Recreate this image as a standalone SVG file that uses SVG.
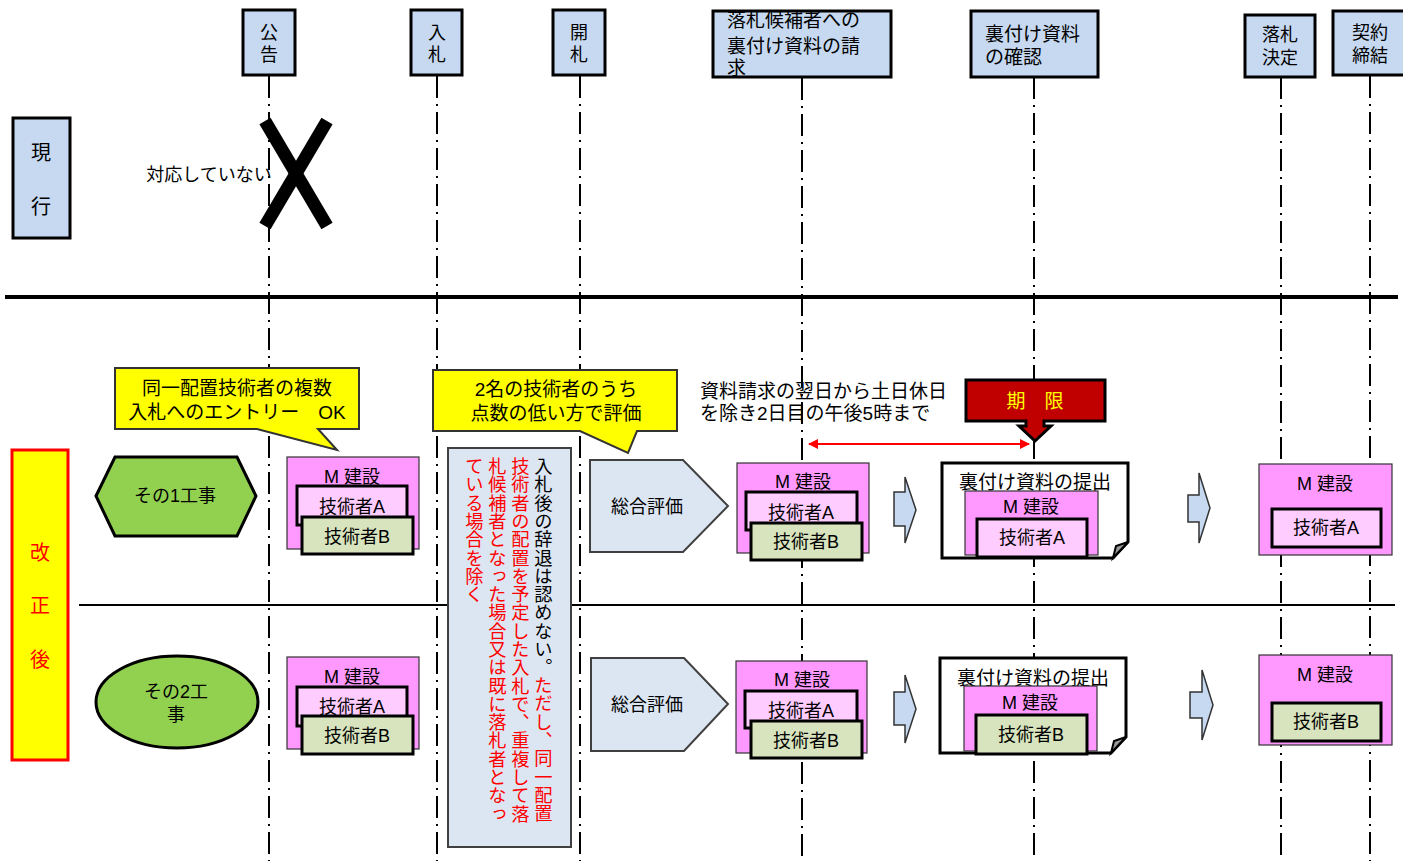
<svg xmlns="http://www.w3.org/2000/svg" width="1403" height="861" viewBox="0 0 1403 861">
<defs>
<style>
text{font-family:"Liberation Sans","Noto Sans CJK JP",sans-serif;font-size:18px;fill:#000;text-anchor:middle;dominant-baseline:central}
.hdr{fill:#c6d9f1;stroke:#000;stroke-width:3}
.life{stroke:#000;stroke-width:2;stroke-dasharray:22 6 2 6;fill:none}
.m{fill:#ff99ff;stroke:#333;stroke-width:1.2}
.ta{fill:#ffccff;stroke:#000;stroke-width:3}
.tb{fill:#d7e4bd;stroke:#000;stroke-width:3}
.green{fill:#92d050;stroke:#000;stroke-width:3}
.pent{fill:#dce6f2;stroke:#404040;stroke-width:2}
.barrow{fill:#c6d9f1;stroke:#333;stroke-width:1.5}
.doc{fill:#fff;stroke:#000;stroke-width:3}
.call{fill:#ffff00;stroke:#333;stroke-width:2}
.f19{font-size:19px}
.left{text-anchor:start}
.vt{writing-mode:vertical-rl;text-anchor:start;font-size:18.3px}
.red{fill:#ff0000}
</style>
<marker id="ah" viewBox="0 0 10 10" refX="9" refY="5" markerWidth="6.5" markerHeight="5" orient="auto-start-reverse" markerUnits="strokeWidth">
<path d="M0,0 L10,5 L0,10 Z" fill="#ff0000"/>
</marker>
</defs>

<g id="connectors">
<line class="life" x1="269" y1="76" x2="269" y2="861"/>
<line class="life" x1="437" y1="76" x2="437" y2="861"/>
<line class="life" x1="580" y1="76" x2="580" y2="861"/>
<line class="life" x1="802" y1="78" x2="802" y2="861"/>
<line class="life" x1="1034" y1="77" x2="1034" y2="861"/>
<line class="life" x1="1281" y1="77" x2="1281" y2="861"/>
<line class="life" x1="1370" y1="76" x2="1370" y2="861"/>
<line x1="5" y1="297" x2="1398" y2="297" stroke="#000" stroke-width="4"/>
<line x1="79" y1="605" x2="1395" y2="605" stroke="#000" stroke-width="2"/>
<line x1="809" y1="444" x2="1029" y2="444" stroke="#ff0000" stroke-width="2" marker-start="url(#ah)" marker-end="url(#ah)"/>
</g>

<g id="h-koukoku"><rect class="hdr" x="243" y="10" width="52" height="65"/><text x="269" y="33">公</text><text x="269" y="55">告</text></g>
<g id="h-nyusatsu"><rect class="hdr" x="411" y="10" width="51" height="65"/><text x="437" y="33">入</text><text x="437" y="55">札</text></g>
<g id="h-kaisatsu"><rect class="hdr" x="553" y="10" width="52" height="65"/><text x="579" y="33">開</text><text x="579" y="55">札</text></g>
<g id="h-seikyu"><rect class="hdr" x="713" y="11" width="178" height="66"/><text class="left f19" x="727" y="20">落札候補者への</text><text class="left f19" x="727" y="46">裏付け資料の請</text><text class="left f19" x="727" y="68">求</text></g>
<g id="h-kakunin"><rect class="hdr" x="971" y="11" width="127" height="66"/><text class="left f19" x="985" y="34">裏付け資料</text><text class="left f19" x="985" y="57">の確認</text></g>
<g id="h-kettei"><rect class="hdr" x="1245" y="15" width="70" height="62"/><text x="1280" y="35">落札</text><text x="1280" y="58">決定</text></g>
<g id="h-teiketsu"><rect class="hdr" x="1333" y="11" width="72" height="64"/><text x="1370" y="33">契約</text><text x="1370" y="56">締結</text></g>

<g id="genkou"><rect class="hdr" x="13" y="118" width="57" height="120"/><text x="41" y="153" style="font-size:20px">現</text><text x="41" y="207" style="font-size:20px">行</text></g>
<g id="not-supported"><text x="209" y="175">対応していない</text><line x1="265" y1="121" x2="327" y2="226" stroke="#000" stroke-width="13"/><line x1="327" y1="121" x2="265" y2="226" stroke="#000" stroke-width="13"/></g>

<g id="kaiseigo"><rect x="12" y="450" width="56" height="310" fill="#ffff00" stroke="#ff0000" stroke-width="3"/><text class="red" x="40" y="553" style="font-size:20px">改</text><text class="red" x="40" y="606" style="font-size:20px">正</text><text class="red" x="40" y="660" style="font-size:20px">後</text></g>

<g id="callout1"><path class="call" d="M115,368 H359 V429 H318 L337,450 L257,429 H115 Z"/><text class="f19" x="237" y="388">同一配置技術者の複数</text><text class="f19" x="237" y="412">入札へのエントリー　OK</text></g>
<g id="callout2"><path class="call" d="M433,370 H677 V431 H637 L628,453 L580,431 H433 Z"/><text class="f19" x="556" y="389">2名の技術者のうち</text><text class="f19" x="556" y="413">点数の低い方で評価</text></g>

<g id="koji1"><path class="green" d="M96,496 L115,457 H237 L256,496 L237,536 H115 Z"/><text x="175" y="496">その1工事</text></g>
<g id="koji2"><ellipse class="green" cx="177" cy="702" rx="81" ry="46"/><text x="176" y="692">その2工</text><text x="176" y="715">事</text></g>

<g id="m1-r1"><rect class="m" x="287" y="457" width="132" height="92"/><text x="352" y="477">M 建設</text><rect class="ta" x="297" y="486" width="110" height="39"/><text x="352" y="507">技術者A</text><rect class="tb" x="302" y="517" width="111" height="37"/><text x="357" y="537">技術者B</text></g>
<g id="m1-r2"><rect class="m" x="287" y="657" width="132" height="92"/><text x="352" y="677">M 建設</text><rect class="ta" x="297" y="687" width="110" height="39"/><text x="352" y="707">技術者A</text><rect class="tb" x="302" y="716" width="111" height="38"/><text x="357" y="736">技術者B</text></g>

<g id="note-box"><rect x="448" y="448" width="123" height="399" fill="#dce6f2" stroke="#404040" stroke-width="2"/>
<text class="vt" x="542" y="457">入札後の辞退は認めない。<tspan fill="#ff0000">ただし、同一配置</tspan></text>
<text class="vt red" x="519" y="457">技術者の配置を予定した入札で、重複して落</text>
<text class="vt red" x="496" y="457">札候補者となった場合又は既に落札者となっ</text>
<text class="vt red" x="473" y="457">ている場合を除く</text></g>

<g id="sogo1"><path class="pent" d="M590,460 H683 L728,506 L683,552 H590 Z"/><text x="647" y="507">総合評価</text></g>
<g id="sogo2"><path class="pent" d="M591,658 H684 L728,704 L684,751 H591 Z"/><text x="647" y="705">総合評価</text></g>

<g id="deadline-note"><text class="left f19" x="700" y="391">資料請求の翌日から土日休日</text><text class="left f19" x="700" y="413">を除き2日目の午後5時まで</text></g>
<g id="kigen"><path d="M966,380 H1105 V421 H1044 V426 H1051 L1035,441 L1019,426 H1026 V421 H966 Z" fill="#c00000" stroke="#000" stroke-width="3"/><text class="f19" x="1035" y="401" style="fill:#ffff00">期　限</text></g>

<g id="m2-r1"><rect class="m" x="737" y="463" width="132" height="90"/><text x="803" y="482">M 建設</text><rect class="ta" x="746" y="492" width="111" height="38"/><text x="801" y="513">技術者A</text><rect class="tb" x="751" y="523" width="111" height="37"/><text x="806" y="542">技術者B</text></g>
<g id="m2-r2"><rect class="m" x="736" y="661" width="131" height="92"/><text x="802" y="680">M 建設</text><rect class="ta" x="745" y="691" width="112" height="37"/><text x="801" y="711">技術者A</text><rect class="tb" x="751" y="721" width="111" height="37"/><text x="806" y="741">技術者B</text></g>

<g id="arrow1-r1"><path class="barrow" d="M894,492 H905 V477 L916,510 L905,543 V526 H894 Z"/></g>
<g id="arrow1-r2"><path class="barrow" d="M894,692 H905 V675 L916,709 L905,743 V725 H894 Z"/></g>

<g id="doc-r1"><path class="doc" d="M942,463 H1128 V542 L1113,558 H942 Z"/><path d="M1128,542 L1116,546 L1113,558 Z" fill="#999" stroke="#000" stroke-width="2"/><text class="f19" x="1035" y="482">裏付け資料の提出</text><rect class="m" x="965" y="491" width="133" height="64"/><text x="1031" y="507">M 建設</text><rect class="ta" x="977" y="519" width="110" height="38"/><text x="1032" y="538">技術者A</text></g>
<g id="doc-r2"><path class="doc" d="M940,658 H1126 V737 L1111,753 H940 Z"/><path d="M1126,737 L1114,741 L1111,753 Z" fill="#999" stroke="#000" stroke-width="2"/><text class="f19" x="1033" y="678">裏付け資料の提出</text><rect class="m" x="964" y="686" width="133" height="65"/><text x="1030" y="703">M 建設</text><rect class="tb" x="976" y="715" width="111" height="39"/><text x="1031" y="735">技術者B</text></g>

<g id="arrow2-r1"><path class="barrow" d="M1188,495 H1199 V473 L1210,508 L1199,543 V522 H1188 Z"/></g>
<g id="arrow2-r2"><path class="barrow" d="M1190,692 H1202 V670 L1213,705 L1202,740 V718 H1190 Z"/></g>

<g id="m3-r1"><rect class="m" x="1259" y="464" width="133" height="91"/><text x="1325" y="484">M 建設</text><rect class="ta" x="1272" y="509" width="109" height="38"/><text x="1326" y="528">技術者A</text></g>
<g id="m3-r2"><rect class="m" x="1259" y="655" width="133" height="90"/><text x="1325" y="675">M 建設</text><rect class="tb" x="1272" y="703" width="109" height="38"/><text x="1326" y="722">技術者B</text></g>
</svg>
